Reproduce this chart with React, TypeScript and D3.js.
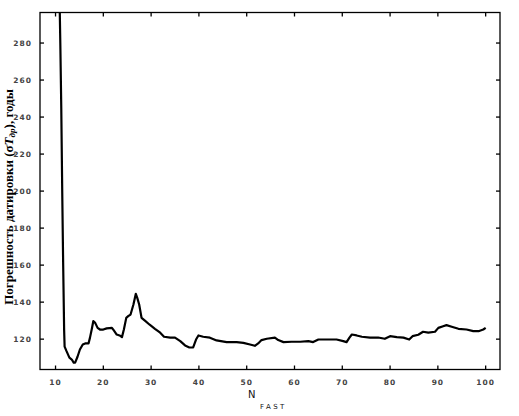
import React, { useEffect, useRef } from 'react';
import * as d3 from 'd3';

// N_FAST values and the dating error (years)
const nFast = [
  10.8, 11.0, 11.2, 11.4, 11.6, 11.8, 11.9, 12.3, 12.9, 13.4, 13.8, 14.1, 14.6, 15.1, 15.7,
  16.2, 16.9, 17.2, 17.6, 17.9, 18.3, 18.8, 19.3, 20.0, 20.7, 21.8, 22.2, 22.8, 23.4, 23.9,
  24.3, 24.8, 25.2, 25.7, 26.3, 26.8, 27.1, 27.5, 28.0, 28.7, 29.7, 30.8, 31.9, 32.7, 34.0,
  35.0, 36.1, 37.1, 38.0, 38.8, 39.4, 39.9, 40.9, 42.3, 43.7, 45.8, 47.9, 49.3, 50.7, 51.7,
  52.4, 53.1, 54.2, 55.9, 56.6, 57.7, 59.4, 61.2, 62.9, 63.9, 65.0, 66.7, 68.8, 70.2, 70.9,
  71.5, 72.0, 73.0, 74.1, 75.8, 77.5, 78.9, 80.0, 81.4, 82.8, 84.0, 84.7, 85.9, 86.9, 88.0,
  89.4, 90.1, 91.1, 91.8, 92.9, 94.3, 96.0, 97.4, 98.5, 99.5, 100.0,
];
const sigmaErr = [
  310, 280, 245, 200, 160, 125, 116, 113.5, 110, 109, 107.3, 107.3, 110.5, 114.4, 117.1,
  117.7, 117.7, 120.7, 125.6, 129.7, 128.8, 126.1, 125.2, 125.2, 125.8, 126.1, 124.7, 122.5, 122, 121.1,
  125.2, 131.5, 132.4, 133.3, 138.7, 144.5, 142.3, 138.7, 131.5, 130, 127.8, 125.6, 123.5, 121.3, 120.8,
  120.8, 118.9, 116.6, 115.5, 115.5, 119.8, 122, 121.3, 120.8, 119.3, 118.4, 118.4, 118, 117.1, 116.4,
  117.7, 119.5, 120.2, 120.8, 119.5, 118.4, 118.6, 118.6, 118.9, 118.4, 119.8, 119.8, 119.8, 118.9, 118.4,
  120.8, 122.5, 122, 121.3, 120.8, 120.9, 120.2, 121.6, 121.1, 120.8, 119.8, 121.6, 122.4, 124, 123.5,
  124, 126.1, 127, 127.6, 126.7, 125.6, 125.2, 124.3, 124.3, 125.2, 126.1,
];
const xTicks = [10, 20, 30, 40, 50, 60, 70, 80, 90, 100];
const yTicks = [120, 140, 160, 180, 200, 220, 240, 260, 280];

const width = 519;
const height = 416;

const App: React.FC = () => {
  const svgRef = useRef<SVGSVGElement>(null);

  useEffect(() => {
    if (!svgRef.current) return;
    const svg = d3.select(svgRef.current);
    svg.selectAll('*').remove();

    const left = 40, right = 500, top = 12.5, bottom = 369.5;

    const x = d3.scaleLinear().domain([6.75, 103]).range([left, right]);
    const y = d3.scaleLinear().domain([103.6, 296.5]).range([bottom, top]);

    svg.append('defs').append('clipPath').attr('id', 'plot-clip')
      .append('rect')
      .attr('x', left).attr('y', top)
      .attr('width', right - left).attr('height', bottom - top);

    // curve
    const points = nFast.map((n, i) => [n, sigmaErr[i]] as [number, number]);
    const line = d3.line<[number, number]>()
      .x(d => x(d[0]))
      .y(d => y(d[1]));

    svg.append('path')
      .datum(points)
      .attr('d', line)
      .attr('clip-path', 'url(#plot-clip)')
      .attr('fill', 'none')
      .attr('stroke', '#000')
      .attr('stroke-width', 2.2)
      .attr('stroke-linejoin', 'round');

    // frame
    svg.append('rect')
      .attr('x', left).attr('y', top)
      .attr('width', right - left).attr('height', bottom - top)
      .attr('fill', 'none')
      .attr('stroke', '#000')
      .attr('stroke-width', 1.3);

    // inward ticks on all four sides
    const tickLen = 4;
    const ticks = svg.append('g').attr('stroke', '#000').attr('stroke-width', 1.3);
    xTicks.forEach(t => {
      ticks.append('line').attr('x1', x(t)).attr('x2', x(t)).attr('y1', bottom).attr('y2', bottom - tickLen);
      ticks.append('line').attr('x1', x(t)).attr('x2', x(t)).attr('y1', top).attr('y2', top + tickLen);
    });
    yTicks.forEach(t => {
      ticks.append('line').attr('x1', left).attr('x2', left + tickLen).attr('y1', y(t)).attr('y2', y(t));
      ticks.append('line').attr('x1', right).attr('x2', right - tickLen).attr('y1', y(t)).attr('y2', y(t));
    });

    // tick labels
    const tickFont = { family: '"DejaVu Sans", sans-serif', size: '7.5px', fill: '#444' };
    svg.append('g').selectAll('text')
      .data(xTicks)
      .enter().append('text')
      .attr('x', d => x(d))
      .attr('y', 385)
      .attr('text-anchor', 'middle')
      .style('font-family', tickFont.family)
      .style('font-size', tickFont.size)
      .style('font-weight', 'bold')
      .style('letter-spacing', '1px')
      .style('fill', tickFont.fill)
      .text(d => d);

    svg.append('g').selectAll('text')
      .data(yTicks)
      .enter().append('text')
      .attr('x', 32)
      .attr('y', d => y(d))
      .attr('dy', '0.35em')
      .attr('text-anchor', 'end')
      .style('font-family', tickFont.family)
      .style('font-size', tickFont.size)
      .style('font-weight', 'bold')
      .style('letter-spacing', '1px')
      .style('fill', tickFont.fill)
      .text(d => d);

    // x axis title: N with subscript FAST
    const xTitle = svg.append('text')
      .attr('x', 248)
      .attr('y', 398)
      .style('font-family', '"DejaVu Sans", sans-serif')
      .style('fill', '#111');
    xTitle.append('tspan').style('font-size', '10px').text('N');
    xTitle.append('tspan')
      .attr('x', 260)
      .attr('y', 409)
      .style('font-size', '7px')
      .style('letter-spacing', '2.5px')
      .text('FAST');

    // y axis title
    const yTitle = svg.append('text')
      .attr('transform', 'translate(12.5,197) rotate(-90)')
      .attr('text-anchor', 'middle')
      .style('font-family', '"Liberation Serif", serif')
      .style('font-size', '13px')
      .style('font-weight', 'bold')
      .style('fill', '#000');
    yTitle.append('tspan').text('Погрешность датировки (σ');
    yTitle.append('tspan').style('font-style', 'italic').text('T');
    yTitle.append('tspan').attr('dy', 2.5).style('font-size', '9px').style('font-style', 'italic').text('др');
    yTitle.append('tspan').attr('dy', -2.5).text('), годы');
  }, []);

  return (
    <svg
      ref={svgRef}
      width={width}
      height={height}
      style={{ position: 'absolute', left: 0, top: 0, background: '#fff' }}
    />
  );
};

export default App;
